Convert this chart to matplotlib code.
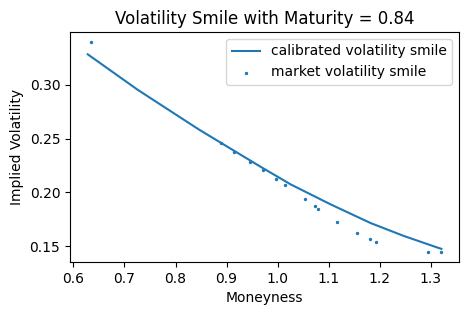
import matplotlib
matplotlib.use("Agg")
from matplotlib import pyplot as plt

# market quotes
market_moneyness = [0.635, 0.889, 0.915, 0.946, 0.972, 0.997, 1.015, 1.054,
                    1.074, 1.079, 1.117, 1.156, 1.181, 1.193, 1.295, 1.320]
market_vol = [0.3395, 0.246, 0.2377, 0.2284, 0.2213, 0.2127, 0.2065, 0.1935,
              0.1877, 0.1849, 0.1729, 0.1627, 0.1571, 0.1544, 0.1451, 0.1451]

# calibrated smile samples
model_moneyness = [0.628, 0.726, 0.8465, 0.967, 1.026, 1.104, 1.1826,
                   1.2477, 1.3131, 1.321]
model_vol = [0.3284, 0.2954, 0.2583, 0.2238, 0.2074, 0.1889, 0.1715,
             0.1595, 0.1488, 0.1476]

maturity = 0.84

fig, ax = plt.subplots(figsize=(4.67, 3.16), dpi=100)
ax.plot(model_moneyness, model_vol, label="calibrated volatility smile")
ax.scatter(market_moneyness, market_vol, s=2, label="market volatility smile")
ax.set_xlabel("Moneyness")
ax.set_ylabel("Implied Volatility")
ax.set_title(f"Volatility Smile with Maturity = {maturity}")
ax.legend(loc="upper right")
fig.subplots_adjust(left=0.150, right=0.983, top=0.899, bottom=0.171)
fig.savefig("out.png")
